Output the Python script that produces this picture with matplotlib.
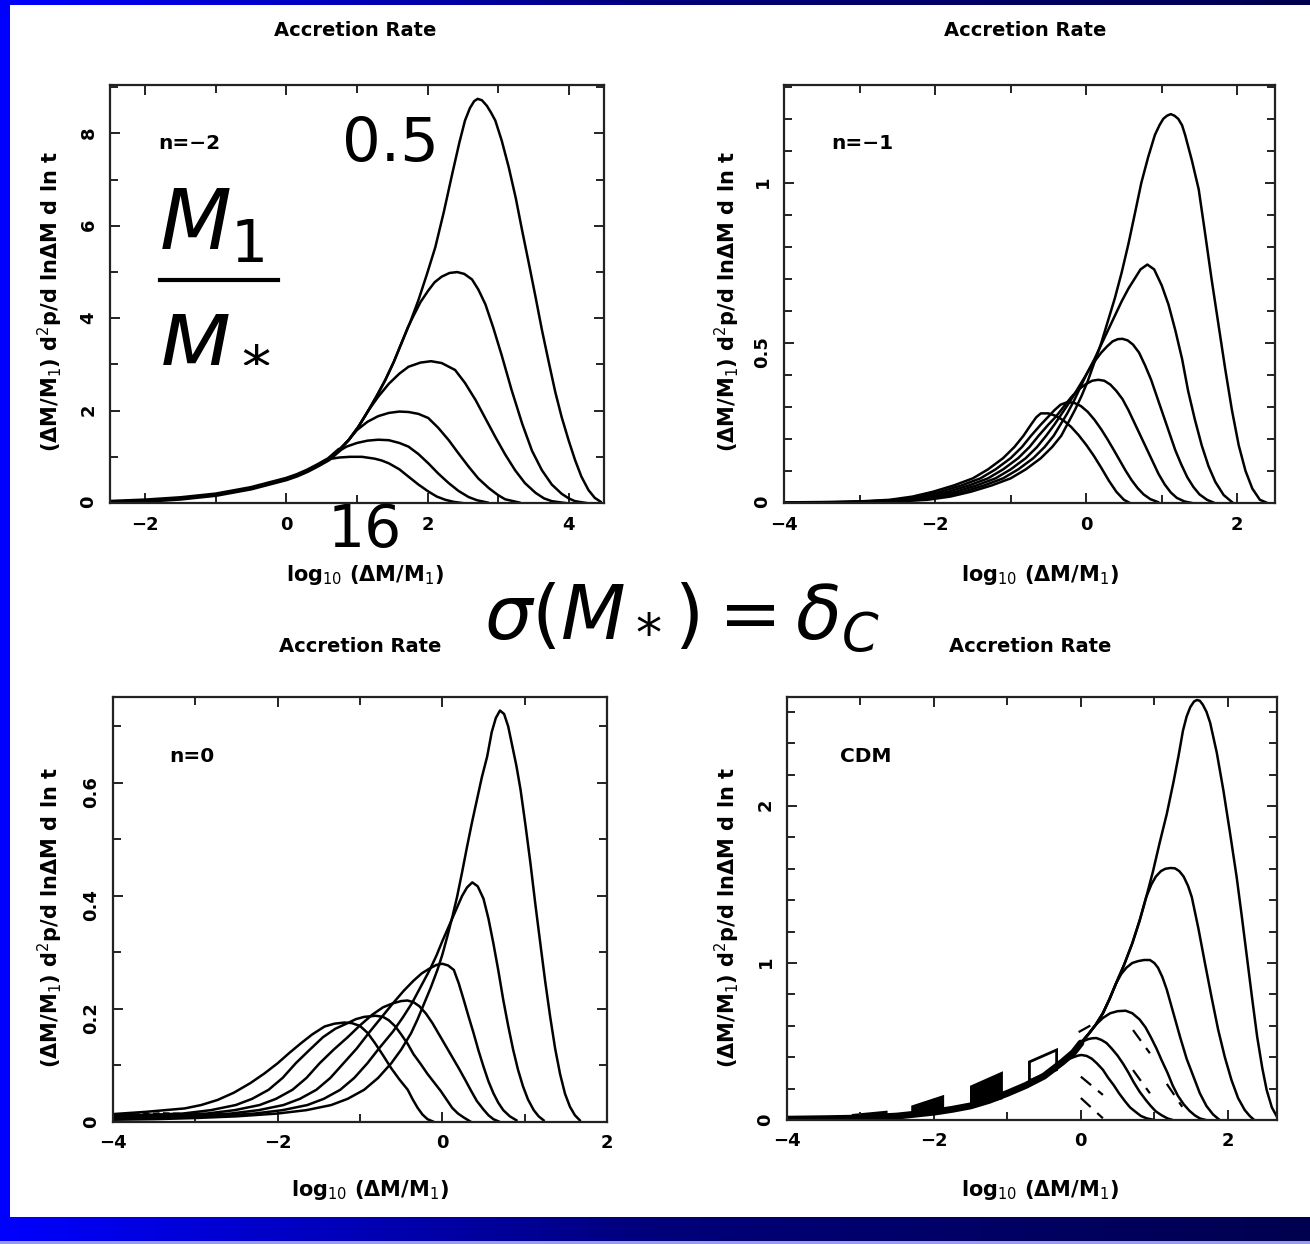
import numpy as np
import matplotlib.pyplot as plt
from matplotlib.colors import LinearSegmentedColormap
from matplotlib.patches import Rectangle, Polygon
from matplotlib.ticker import MultipleLocator, FuncFormatter

plt.rcParams['font.family'] = 'DejaVu Sans'
plt.rcParams['mathtext.fontset'] = 'dejavusans'

W, H = 1310, 1244

# M1/M* of each curve, from the lowest peak to the highest
mass_ratio = [16, 8, 4, 2, 1, 0.5]

# ---- n = -2: common rising envelope + individual branches
n2_env_x = [-2.5, -2.0, -1.5, -1.0, -0.5, 0.0, 0.15, 0.3, 0.45, 0.6, 0.75, 0.88, 1.02, 1.16, 1.28, 1.40, 1.52,
            1.63, 1.75, 1.87, 1.99, 2.11, 2.23, 2.35, 2.45, 2.53]
n2_env_y = [0.02, 0.05, 0.10, 0.18, 0.32, 0.52, 0.6, 0.70, 0.82, 0.95, 1.15, 1.36, 1.65, 2.0, 2.32, 2.66, 3.05,
            3.46, 3.9, 4.39, 4.95, 5.54, 6.3, 7.13, 7.8, 8.28]
n2_leave = [0.6, 0.6, 0.88, 1.16, 1.63, 2.53]
n2_x = [[0.75, 0.9, 1.07, 1.25, 1.35, 1.45, 1.6, 1.73, 1.87, 2.01, 2.13, 2.25, 2.37, 2.49],
        [0.72, 0.85, 1.0, 1.15, 1.3, 1.45, 1.6, 1.73, 1.87, 2.01, 2.15, 2.30, 2.44, 2.58, 2.7, 2.85],
        [1.0, 1.15, 1.3, 1.45, 1.6, 1.73, 1.87, 2.01, 2.15, 2.30, 2.44, 2.58, 2.72, 2.87, 3.0, 3.1, 3.3],
        [1.3, 1.45, 1.6, 1.73, 1.9, 2.05, 2.2, 2.39, 2.53, 2.68, 2.82, 2.96, 3.1, 3.24, 3.38, 3.53, 3.65, 3.76, 3.95],
        [1.72, 1.80, 1.9, 2.01, 2.1, 2.2, 2.31, 2.42, 2.52, 2.63, 2.72, 2.82, 2.93, 3.05, 3.19, 3.34, 3.48, 3.62,
         3.76, 3.90, 4.0, 4.09, 4.25],
        [2.6, 2.66, 2.71, 2.77, 2.84, 2.9, 2.96, 3.05, 3.15, 3.25, 3.34, 3.44, 3.53, 3.62, 3.72, 3.81, 3.90, 4.0,
         4.09, 4.18, 4.28, 4.37, 4.45]]
n2_y = [[0.985, 1.0, 1.0, 0.96, 0.92, 0.86, 0.73, 0.57, 0.4, 0.25, 0.14, 0.07, 0.025, 0.0],
        [1.1, 1.22, 1.3, 1.35, 1.37, 1.36, 1.3, 1.22, 1.06, 0.86, 0.64, 0.43, 0.26, 0.13, 0.06, 0.01],
        [1.58, 1.76, 1.88, 1.95, 1.98, 1.97, 1.93, 1.84, 1.63, 1.36, 1.07, 0.79, 0.53, 0.32, 0.17, 0.08, 0.01],
        [2.3, 2.58, 2.8, 2.95, 3.04, 3.07, 3.03, 2.88, 2.6, 2.23, 1.83, 1.43, 1.05, 0.71, 0.43, 0.22, 0.1, 0.04, 0.0],
        [3.8, 4.05, 4.35, 4.6, 4.78, 4.9, 4.98, 5.0, 4.96, 4.84, 4.62, 4.3, 3.8, 3.2, 2.45, 1.72, 1.13, 0.71,
         0.4, 0.2, 0.1, 0.04, 0.0],
        [8.55, 8.7, 8.75, 8.72, 8.6, 8.45, 8.28, 7.85, 7.27, 6.6, 5.9, 5.15, 4.46, 3.75, 3.03, 2.4, 1.86, 1.35,
         0.93, 0.57, 0.28, 0.11, 0.03]]

# ---- n = -1
n1_x = [[-4.0, -3.5, -3.0, -2.6, -2.3, -2.03, -1.75, -1.5, -1.3, -1.1, -0.95, -0.83, -0.73, -0.66, -0.6, -0.5,
         -0.4, -0.3, -0.2, -0.1, 0.0, 0.1, 0.2, 0.3, 0.4, 0.5, 0.58],
        [-4.0, -3.4, -2.9, -2.5, -2.2, -1.93, -1.65, -1.4, -1.2, -1.0, -0.85, -0.73, -0.6, -0.5, -0.42, -0.34,
         -0.25, -0.16, -0.07, 0.02, 0.11, 0.2, 0.28, 0.36, 0.44, 0.52, 0.6, 0.68, 0.76, 0.85, 0.95],
        [-4.0, -3.3, -2.8, -2.4, -2.1, -1.83, -1.55, -1.3, -1.1, -0.9, -0.75, -0.63, -0.5, -0.4, -0.3, -0.2, -0.1,
         0.0, 0.08, 0.16, 0.24, 0.32, 0.4, 0.48, 0.56, 0.64, 0.72, 0.8, 0.88, 0.96, 1.04, 1.12, 1.2, 1.3, 1.4],
        [-4.0, -3.2, -2.7, -2.3, -2.0, -1.73, -1.45, -1.2, -1.0, -0.8, -0.65, -0.53, -0.42, -0.32, -0.22, -0.13,
         -0.04, 0.05, 0.12, 0.2, 0.28, 0.35, 0.42, 0.48, 0.55, 0.62, 0.7, 0.78, 0.86, 0.94, 1.02, 1.1, 1.18, 1.26,
         1.34, 1.42, 1.5, 1.6, 1.7],
        [-4.0, -3.1, -2.6, -2.2, -1.9, -1.63, -1.35, -1.1, -0.9, -0.7, -0.55, -0.43, -0.34, -0.25, -0.16, -0.08,
         0.01, 0.11, 0.2, 0.29, 0.38, 0.47, 0.56, 0.64, 0.72, 0.81, 0.9, 1.0, 1.09, 1.18, 1.27, 1.35, 1.44, 1.53,
         1.62, 1.71, 1.82, 1.93],
        [-4.0, -3.5, -3.0, -2.5, -2.1, -1.8, -1.53, -1.25, -1.0, -0.8, -0.6, -0.45, -0.33, -0.24, -0.15, -0.06,
         0.02, 0.11, 0.2, 0.29, 0.38, 0.47, 0.56, 0.65, 0.73, 0.82, 0.91, 0.97, 1.02, 1.07, 1.12, 1.17, 1.22, 1.27,
         1.31, 1.4, 1.49, 1.57, 1.66, 1.75, 1.84, 1.93, 2.02, 2.11, 2.2, 2.3, 2.4]]
n1_y = [[0.002, 0.003, 0.005, 0.01, 0.02, 0.035, 0.055, 0.077, 0.105, 0.14, 0.175, 0.21, 0.245, 0.268, 0.28,
         0.28, 0.272, 0.258, 0.238, 0.212, 0.182, 0.148, 0.11, 0.07, 0.035, 0.01, 0.0],
        [0.001, 0.002, 0.005, 0.01, 0.02, 0.035, 0.055, 0.077, 0.105, 0.14, 0.175, 0.21, 0.245, 0.27, 0.29, 0.307,
         0.315, 0.313, 0.303, 0.285, 0.26, 0.23, 0.2, 0.168, 0.135, 0.102, 0.072, 0.047, 0.027, 0.012, 0.003],
        [0.001, 0.002, 0.005, 0.01, 0.02, 0.035, 0.055, 0.077, 0.105, 0.14, 0.175, 0.21, 0.245, 0.27, 0.3, 0.33,
         0.355, 0.372, 0.382, 0.385, 0.382, 0.37, 0.35, 0.325, 0.29, 0.25, 0.21, 0.17, 0.13, 0.09, 0.058, 0.033,
         0.016, 0.005, 0.0],
        [0.0, 0.002, 0.005, 0.01, 0.02, 0.035, 0.055, 0.077, 0.105, 0.14, 0.175, 0.21, 0.245, 0.28, 0.315, 0.35,
         0.385, 0.42, 0.445, 0.47, 0.49, 0.505, 0.512, 0.513, 0.508, 0.495, 0.47, 0.43, 0.385, 0.33, 0.275, 0.22,
         0.165, 0.12, 0.08, 0.05, 0.027, 0.01, 0.0],
        [0.0, 0.002, 0.005, 0.01, 0.02, 0.035, 0.055, 0.077, 0.105, 0.14, 0.175, 0.21, 0.245, 0.28, 0.32, 0.36,
         0.405, 0.45, 0.495, 0.54, 0.585, 0.63, 0.67, 0.70, 0.73, 0.745, 0.73, 0.68, 0.62, 0.54, 0.45, 0.35, 0.26,
         0.18, 0.115, 0.066, 0.025, 0.003],
        [0.0, 0.001, 0.002, 0.005, 0.01, 0.02, 0.035, 0.055, 0.077, 0.105, 0.14, 0.175, 0.21, 0.25, 0.29, 0.335,
         0.38, 0.44, 0.5, 0.57, 0.64, 0.72, 0.81, 0.91, 1.0, 1.08, 1.15, 1.18, 1.2, 1.21, 1.215, 1.21, 1.2, 1.18,
         1.15, 1.07, 0.98, 0.85, 0.70, 0.56, 0.42, 0.29, 0.18, 0.1, 0.045, 0.01, 0.0]]

# ---- n = 0
n0_x = [[-4.0, -3.6, -3.13, -2.93, -2.73, -2.53, -2.33, -2.16, -2.0, -1.86, -1.72, -1.58, -1.43, -1.31, -1.19,
         -1.1, -1.0, -0.91, -0.82, -0.72, -0.62, -0.52, -0.42, -0.36, -0.3, -0.24, -0.18, -0.1],
        [-4.0, -3.5, -3.15, -2.81, -2.51, -2.31, -2.11, -1.94, -1.78, -1.61, -1.45, -1.3, -1.15, -1.05, -0.95, -0.81,
         -0.72, -0.65, -0.57, -0.5, -0.42, -0.35, -0.26, -0.18, -0.1, -0.02, 0.05, 0.12, 0.19, 0.26, 0.35],
        [-4.0, -3.4, -2.86, -2.52, -2.22, -2.02, -1.82, -1.65, -1.49, -1.32, -1.15, -1.0, -0.85, -0.72, -0.6, -0.5,
         -0.424, -0.35, -0.28, -0.2, -0.12, -0.04, 0.04, 0.12, 0.2, 0.28, 0.35, 0.42, 0.5, 0.56, 0.62, 0.7],
        [-4.0, -3.2, -2.57, -2.23, -1.93, -1.73, -1.53, -1.36, -1.2, -1.04, -0.88, -0.74, -0.6, -0.47, -0.35, -0.25,
         -0.15, -0.07, 0.0, 0.07, 0.14, 0.2, 0.26, 0.32, 0.38, 0.44, 0.50, 0.56, 0.62, 0.68, 0.74, 0.82, 0.90],
        [-4.0, -3.2, -2.7, -2.28, -1.94, -1.64, -1.44, -1.24, -1.07, -0.91, -0.77, -0.6, -0.48, -0.37, -0.26, -0.15,
         -0.07, 0.0, 0.06, 0.12, 0.18, 0.24, 0.30, 0.364, 0.43, 0.5, 0.56, 0.62, 0.68, 0.74, 0.8, 0.86, 0.92, 0.98,
         1.04, 1.11, 1.17, 1.23],
        [-4.0, -3.5, -3.0, -2.5, -2.0, -1.65, -1.35, -1.15, -0.95, -0.78, -0.62, -0.5, -0.38, -0.3, -0.22, -0.14,
         -0.06, 0.0, 0.06, 0.12, 0.18, 0.24, 0.30, 0.36, 0.42, 0.48, 0.545, 0.60, 0.65, 0.70, 0.75, 0.80, 0.85,
         0.90, 0.95, 1.01, 1.07, 1.13, 1.19, 1.25, 1.31, 1.37, 1.43, 1.49, 1.55, 1.61, 1.67]]
n0_y = [[0.014, 0.018, 0.024, 0.03, 0.039, 0.052, 0.069, 0.086, 0.104, 0.122, 0.139, 0.155, 0.169, 0.174, 0.176,
         0.175, 0.17, 0.158, 0.14, 0.118, 0.095, 0.075, 0.057, 0.04, 0.025, 0.013, 0.005, 0.0],
        [0.012, 0.013, 0.015, 0.021, 0.03, 0.041, 0.057, 0.078, 0.104, 0.128, 0.15, 0.165, 0.175, 0.182, 0.186,
         0.188, 0.186, 0.18, 0.169, 0.155, 0.138, 0.12, 0.102, 0.085, 0.07, 0.055, 0.04, 0.025, 0.015, 0.008, 0.0],
        [0.01, 0.012, 0.015, 0.021, 0.030, 0.041, 0.057, 0.078, 0.104, 0.128, 0.15, 0.171, 0.19, 0.203, 0.21,
         0.214, 0.215, 0.212, 0.205, 0.192, 0.175, 0.155, 0.135, 0.115, 0.095, 0.074, 0.055, 0.037, 0.022, 0.012,
         0.005, 0.0],
        [0.008, 0.01, 0.015, 0.021, 0.030, 0.041, 0.057, 0.078, 0.104, 0.13, 0.16, 0.185, 0.21, 0.232, 0.25, 0.263,
         0.272, 0.278, 0.28, 0.277, 0.269, 0.245, 0.216, 0.186, 0.157, 0.126, 0.098, 0.072, 0.051, 0.034, 0.021,
         0.01, 0.003],
        [0.006, 0.008, 0.011, 0.015, 0.021, 0.030, 0.041, 0.057, 0.078, 0.104, 0.13, 0.16, 0.185, 0.21, 0.24, 0.27,
         0.295, 0.32, 0.34, 0.36, 0.38, 0.40, 0.415, 0.424, 0.417, 0.395, 0.36, 0.316, 0.268, 0.216, 0.17, 0.128,
         0.092, 0.063, 0.04, 0.021, 0.01, 0.003],
        [0.004, 0.005, 0.007, 0.01, 0.015, 0.021, 0.030, 0.041, 0.057, 0.078, 0.104, 0.128, 0.157, 0.182, 0.21,
         0.238, 0.269, 0.296, 0.328, 0.362, 0.399, 0.442, 0.487, 0.53, 0.57, 0.61, 0.647, 0.69, 0.715, 0.728, 0.722,
         0.70, 0.665, 0.63, 0.588, 0.525, 0.458, 0.385, 0.316, 0.248, 0.186, 0.13, 0.085, 0.05, 0.027, 0.012,
         0.003]]
n0_dash_x = [-4.0, -3.4, -2.8, -2.3]
n0_dash_y = [0.012, 0.016, 0.013, 0.015]

# ---- CDM: common rising envelope + branches, plus dashed Monte-Carlo bits
cdm_env_x = [-4.0, -3.5, -3.0, -2.5, -2.0, -1.75, -1.5, -1.25, -1.0, -0.75, -0.5, -0.25, -0.1, 0.0, 0.1, 0.2,
             0.3, 0.39, 0.48, 0.59, 0.70, 0.8, 0.89, 0.98, 1.07, 1.17, 1.26, 1.33, 1.39, 1.44, 1.49]
cdm_env_y = [0.005, 0.008, 0.012, 0.025, 0.05, 0.068, 0.09, 0.125, 0.17, 0.22, 0.28, 0.37, 0.43, 0.49, 0.545,
             0.605, 0.68, 0.77, 0.871, 0.99, 1.125, 1.27, 1.42, 1.58, 1.76, 1.95, 2.15, 2.32, 2.48, 2.57, 2.63]
cdm_leave = [-0.25, 0.0, 0.2, 0.48, 0.89, 1.49]
cdm_x = [[-0.18, -0.1, -0.04, 0.01, 0.08, 0.15, 0.22, 0.3, 0.37, 0.45, 0.52, 0.6, 0.67, 0.75, 0.82, 0.9, 1.0],
         [0.05, 0.1, 0.15, 0.21, 0.28, 0.35, 0.42, 0.5, 0.58, 0.65, 0.72, 0.8, 0.88, 0.95, 1.02, 1.1, 1.18, 1.25],
         [0.3, 0.4, 0.5, 0.61, 0.7, 0.8, 0.88, 0.95, 1.03, 1.1, 1.18, 1.25, 1.32, 1.4, 1.48, 1.55, 1.62, 1.7],
         [0.55, 0.62, 0.7, 0.78, 0.86, 0.94, 1.0, 1.05, 1.11, 1.17, 1.26, 1.35, 1.44, 1.53, 1.62, 1.71, 1.8, 1.89],
         [0.96, 1.02, 1.09, 1.15, 1.22, 1.28, 1.34, 1.4, 1.46, 1.51, 1.6, 1.69, 1.78, 1.87, 1.96, 2.05, 2.14, 2.23,
          2.3, 2.36],
         [1.54, 1.58, 1.62, 1.66, 1.71, 1.76, 1.85, 1.94, 2.03, 2.12, 2.19, 2.26, 2.33, 2.40, 2.47, 2.53, 2.6, 2.67]]
cdm_y = [[0.385, 0.4, 0.41, 0.414, 0.408, 0.39, 0.36, 0.32, 0.27, 0.22, 0.17, 0.12, 0.08, 0.05, 0.025, 0.01, 0.0],
         [0.505, 0.515, 0.52, 0.522, 0.51, 0.49, 0.455, 0.41, 0.355, 0.3, 0.24, 0.18, 0.13, 0.09, 0.055, 0.03, 0.01,
          0.0],
         [0.65, 0.68, 0.693, 0.696, 0.68, 0.64, 0.59, 0.53, 0.455, 0.38, 0.3, 0.22, 0.155, 0.10, 0.058, 0.03, 0.01,
          0.0],
         [0.93, 0.97, 1.0, 1.012, 1.019, 1.019, 1.0, 0.97, 0.91, 0.83, 0.68, 0.53, 0.39, 0.28, 0.17, 0.089, 0.035,
          0.0],
         [1.5, 1.55, 1.585, 1.6, 1.605, 1.603, 1.585, 1.55, 1.49, 1.42, 1.22, 0.997, 0.78, 0.573, 0.4, 0.255, 0.14,
          0.064, 0.025, 0.0],
         [2.665, 2.675, 2.67, 2.645, 2.6, 2.53, 2.34, 2.10, 1.83, 1.55, 1.3, 1.04, 0.78, 0.53, 0.33, 0.19, 0.08,
          0.02]]
cdm_dash_x = [[0.0, 0.3], [0.0, 0.3], [0.71, 0.94], [0.71, 0.94], [1.17, 1.38], [-0.03, 0.22]]
cdm_dash_y = [[0.276, 0.16], [0.14, 0.011], [0.573, 0.425], [0.318, 0.17], [0.23, 0.084], [0.56, 0.625]]
cdm_block_x = [[-3.1, -2.65, -2.65, -3.1], [-2.29, -1.88, -1.88, -2.29],
               [-1.49, -1.08, -1.08, -1.49], [-0.7, -0.33, -0.33, -0.7]]
cdm_block_y = [[0.005, 0.01, 0.05, 0.03], [0.03, 0.05, 0.148, 0.085],
               [0.085, 0.14, 0.297, 0.212], [0.25, 0.32, 0.446, 0.37]]

fig = plt.figure(figsize=(W / 100, H / 100), dpi=100)

# slide frame
bg = fig.add_axes([0, 0, 1, 1], zorder=-10)
bg.set_xlim(0, W)
bg.set_ylim(H, 0)
bg.axis('off')
grad = np.linspace(0, 1, 256)[None, :]
blues = LinearSegmentedColormap.from_list('blues', ['#0000ff', '#00007a', '#000050'])
bg.imshow(grad, extent=(0, W, H, 1217), cmap=blues, aspect='auto')
bg.imshow(grad, extent=(0, W, 5, 0), cmap=blues, aspect='auto')
bg.add_patch(Rectangle((0, 0), 10, 1217, color='#0000ff', lw=0))
bg.add_patch(Rectangle((0, 1241), W, 3, color='#9a9ae8', lw=0))


def ftext(x, y, s, **kw):
    kw.setdefault('ha', 'center')
    kw.setdefault('va', 'center')
    return fig.text(x / W, 1 - y / H, s, **kw)


def make_ax(l, t, r, b, xlim, ylim, xmaj, xmin, ymaj, ymin):
    ax = fig.add_axes([l / W, 1 - b / H, (r - l) / W, (b - t) / H])
    ax.set_xlim(*xlim)
    ax.set_ylim(*ylim)
    ax.xaxis.set_major_locator(MultipleLocator(xmaj))
    ax.xaxis.set_minor_locator(MultipleLocator(xmin))
    ax.yaxis.set_major_locator(MultipleLocator(ymaj))
    ax.yaxis.set_minor_locator(MultipleLocator(ymin))
    fmt = FuncFormatter(lambda v, p: ('%g' % round(v, 3)).replace('-', '\u2212'))
    ax.xaxis.set_major_formatter(fmt)
    ax.yaxis.set_major_formatter(fmt)
    ax.tick_params(which='both', direction='in', top=True, right=True, width=1.4, color='#222222')
    ax.tick_params(which='major', length=7)
    ax.tick_params(which='minor', length=6)
    ax.tick_params(axis='x', labelsize=13, pad=9)
    ax.tick_params(axis='y', labelsize=13, pad=9, labelrotation=90)
    for lab in ax.get_xticklabels() + ax.get_yticklabels():
        lab.set_fontweight('bold')
    for s in ax.spines.values():
        s.set_linewidth(1.6)
        s.set_color('#222222')
    return ax


LW = 1.8
ylab = '(ΔM/M$_1$) d$^2$p/d lnΔM d ln t'
xlab = 'log$_{10}$ (ΔM/M$_1$)'


def branch(env_x, env_y, leave, bx, by):
    ex = [v for v in env_x if v <= leave]
    return ex + bx, env_y[:len(ex)] + by


def panel_label(ax, s):
    ax.text(0.16, 0.86, s, transform=ax.transAxes, fontsize=14.5, fontweight='bold', ha='center', va='center')


# panel n = -2
ax1 = make_ax(110, 85, 604, 503, (-2.5, 4.5), (0, 9.05), 2, 1, 2, 1)
for lv, bx, by in zip(n2_leave, n2_x, n2_y):
    ax1.plot(*branch(n2_env_x, n2_env_y, lv, bx, by), color='black', lw=LW)
ax1.plot(*branch(n2_env_x, n2_env_y, 0.75, [], []), color='black', lw=3.4, solid_capstyle='round')
panel_label(ax1, 'n=\u22122')

# panel n = -1
ax2 = make_ax(784, 85, 1275, 503, (-4, 2.5), (0, 1.306), 2, 1, 0.5, 0.1)
for x, y in zip(n1_x, n1_y):
    ax2.plot(x, y, color='black', lw=LW)
panel_label(ax2, 'n=\u22121')

# panel n = 0
ax3 = make_ax(113, 697, 607, 1122, (-4, 2), (0, 0.752), 2, 1, 0.2, 0.1)
for x, y in zip(n0_x, n0_y):
    ax3.plot(x, y, color='black', lw=LW)
ax3.plot(n0_dash_x, n0_dash_y, color='black', lw=1.2, ls=(0, (4, 2)))
panel_label(ax3, 'n=0')

# panel CDM
ax4 = make_ax(787, 697, 1277, 1120, (-4, 2.67), (0, 2.694), 2, 1, 1, 0.2)
for lv, bx, by in zip(cdm_leave, cdm_x, cdm_y):
    ax4.plot(*branch(cdm_env_x, cdm_env_y, lv, bx, by), color='black', lw=LW)
ax4.plot(*branch(cdm_env_x, cdm_env_y, 0.0, [], []), color='black', lw=5, solid_capstyle='round')
for x, y in zip(cdm_dash_x, cdm_dash_y):
    ax4.plot(x, y, color='black', lw=1.6, ls=(0, (6, 4)))
for i, (x, y) in enumerate(zip(cdm_block_x, cdm_block_y)):
    ax4.add_patch(Polygon(np.column_stack([x, y]), closed=True, facecolor='black' if i < 3 else 'none',
                          edgecolor='black', lw=2))
panel_label(ax4, 'CDM')

# titles and axis labels
for (tx, ty) in [(355, 31), (1025, 31), (360, 646), (1030, 646)]:
    ftext(tx, ty, 'Accretion Rate', fontsize=14, fontweight='bold')
for (lx, ly) in [(365, 575), (1040, 575), (370, 1190), (1040, 1190)]:
    ftext(lx, ly, xlab, fontsize=15, fontweight='bold')
for (lx, ly) in [(50, 302), (727, 302), (50, 918), (727, 918)]:
    ftext(lx, ly, ylab, fontsize=15, fontweight='bold', rotation=90)

# slide annotations, on top of everything
ov = fig.add_axes([0, 0, 1, 1], zorder=10)
ov.set_xlim(0, W)
ov.set_ylim(H, 0)
ov.axis('off')
ov.patch.set_alpha(0)
ov.plot([160, 278], [280, 280], color='black', lw=3)
ftext(390, 145, '0.5', fontsize=44)
ftext(365, 530, '16', fontsize=42)
ftext(212, 226, '$M_1$', fontsize=60)
ftext(214, 338, '$M_*$', fontsize=60)
ftext(682, 618, r'$\sigma(M_*) = \delta_C$', fontsize=54)

fig.savefig('out.png', dpi=100)
